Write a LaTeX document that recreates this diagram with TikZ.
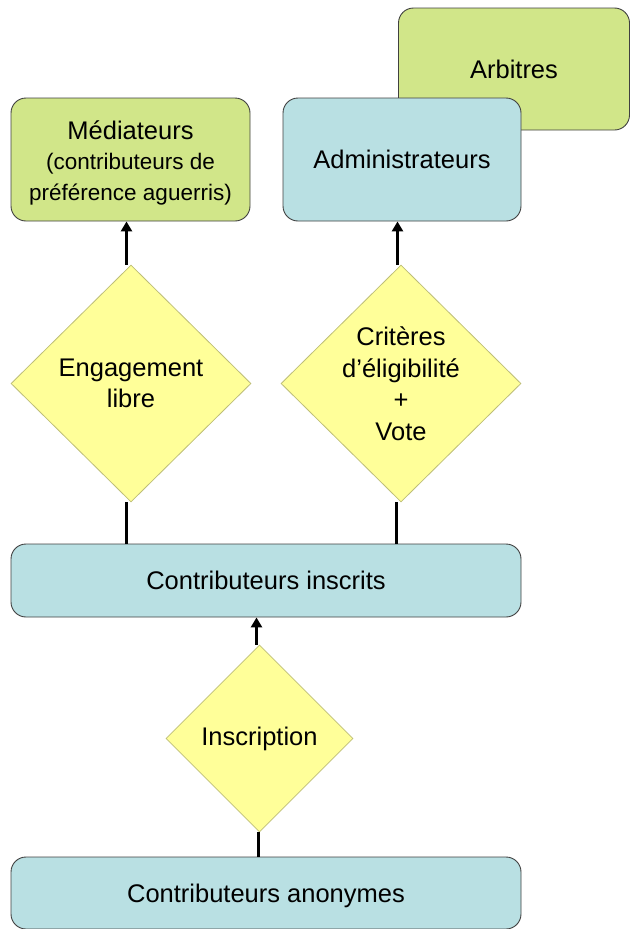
\documentclass[tikz,border=0pt]{standalone}
\usepackage{fontspec}
\setmainfont{Liberation Sans}
\usetikzlibrary{shapes.geometric,arrows.meta}
\definecolor{boxgreen}{RGB}{209,230,137}
\definecolor{boxblue}{RGB}{185,224,227}
\definecolor{dmdyellow}{RGB}{255,255,153}
\definecolor{dmdborder}{RGB}{190,190,120}
\definecolor{boxborder}{RGB}{64,64,64}
\begin{document}
\begin{tikzpicture}[x=1pt,y=-1pt,
  box/.style={draw=boxborder,line width=0.9pt,rounded corners=15pt,rectangle,inner sep=0pt,align=center,
    font=\fontsize{25.5}{31}\selectfont},
  greenbox/.style={box,fill=boxgreen},
  bluebox/.style={box,fill=boxblue},
  boxtext/.style={align=center,inner sep=0pt,font=\fontsize{25.5}{31}\selectfont},
  dmd/.style={diamond,draw=dmdborder,line width=0.8pt,fill=dmdyellow,inner sep=0pt,align=center,
    font=\fontsize{25.5}{31.5}\selectfont},
  conn/.style={line width=3pt,black},
  arr/.style={conn,-{Triangle[width=11pt,length=10pt]}}]
\useasboundingbox (0,0) rectangle (630,929);
% boxes
\node[greenbox,minimum width=231pt,minimum height=122pt] (arb) at (514,69) {Arbitres};
\node[bluebox,minimum width=238pt,minimum height=123pt] (adm) at (402,159.5) {Administrateurs};
\node[greenbox,minimum width=239pt,minimum height=123pt,
  label={[boxtext,yshift=-3pt]center:M\'ediateurs\\[-1pt]{\fontsize{22.5}{29.5}\selectfont (contributeurs de}\\{\fontsize{22.5}{29.5}\selectfont pr\'ef\'erence aguerris)}}]
  (med) at (130.5,159.5) {};
\node[bluebox,minimum width=510pt,minimum height=73pt] (ins) at (266,580.5) {Contributeurs inscrits};
\node[bluebox,minimum width=510pt,minimum height=72pt,
  label={[boxtext,yshift=-3pt]center:Contributeurs anonymes}] (ano) at (266,893) {};
% diamonds
\node[dmd,minimum width=240pt,minimum height=237pt] (eng) at (131,383.5) {Engagement\\libre};
\node[dmd,minimum width=240pt,minimum height=237pt] (crit) at (401,383.5) {Crit\`eres\\d’\'eligibilit\'e\\+\\Vote};
\node[dmd,minimum width=187pt,minimum height=187pt] (insc) at (259.5,738.5) {Inscription};
% connectors
\draw[arr] ([xshift=-4.5pt]eng.north) -- ([xshift=-4.5pt]eng.north |- med.south);
\draw[arr] ([xshift=-3.5pt]crit.north) -- ([xshift=-3.5pt]crit.north |- adm.south);
\draw[conn] ([xshift=-5pt]eng.south) -- ([xshift=-5pt]eng.south |- ins.north);
\draw[conn] ([xshift=-5pt]crit.south) -- ([xshift=-5pt]crit.south |- ins.north);
\draw[arr] ([xshift=-3pt]insc.north) -- ([xshift=-3pt]insc.north |- ins.south);
\draw[conn] ([xshift=-1.5pt]insc.south) -- ([xshift=-1.5pt]insc.south |- ano.north);
\end{tikzpicture}
\end{document}
